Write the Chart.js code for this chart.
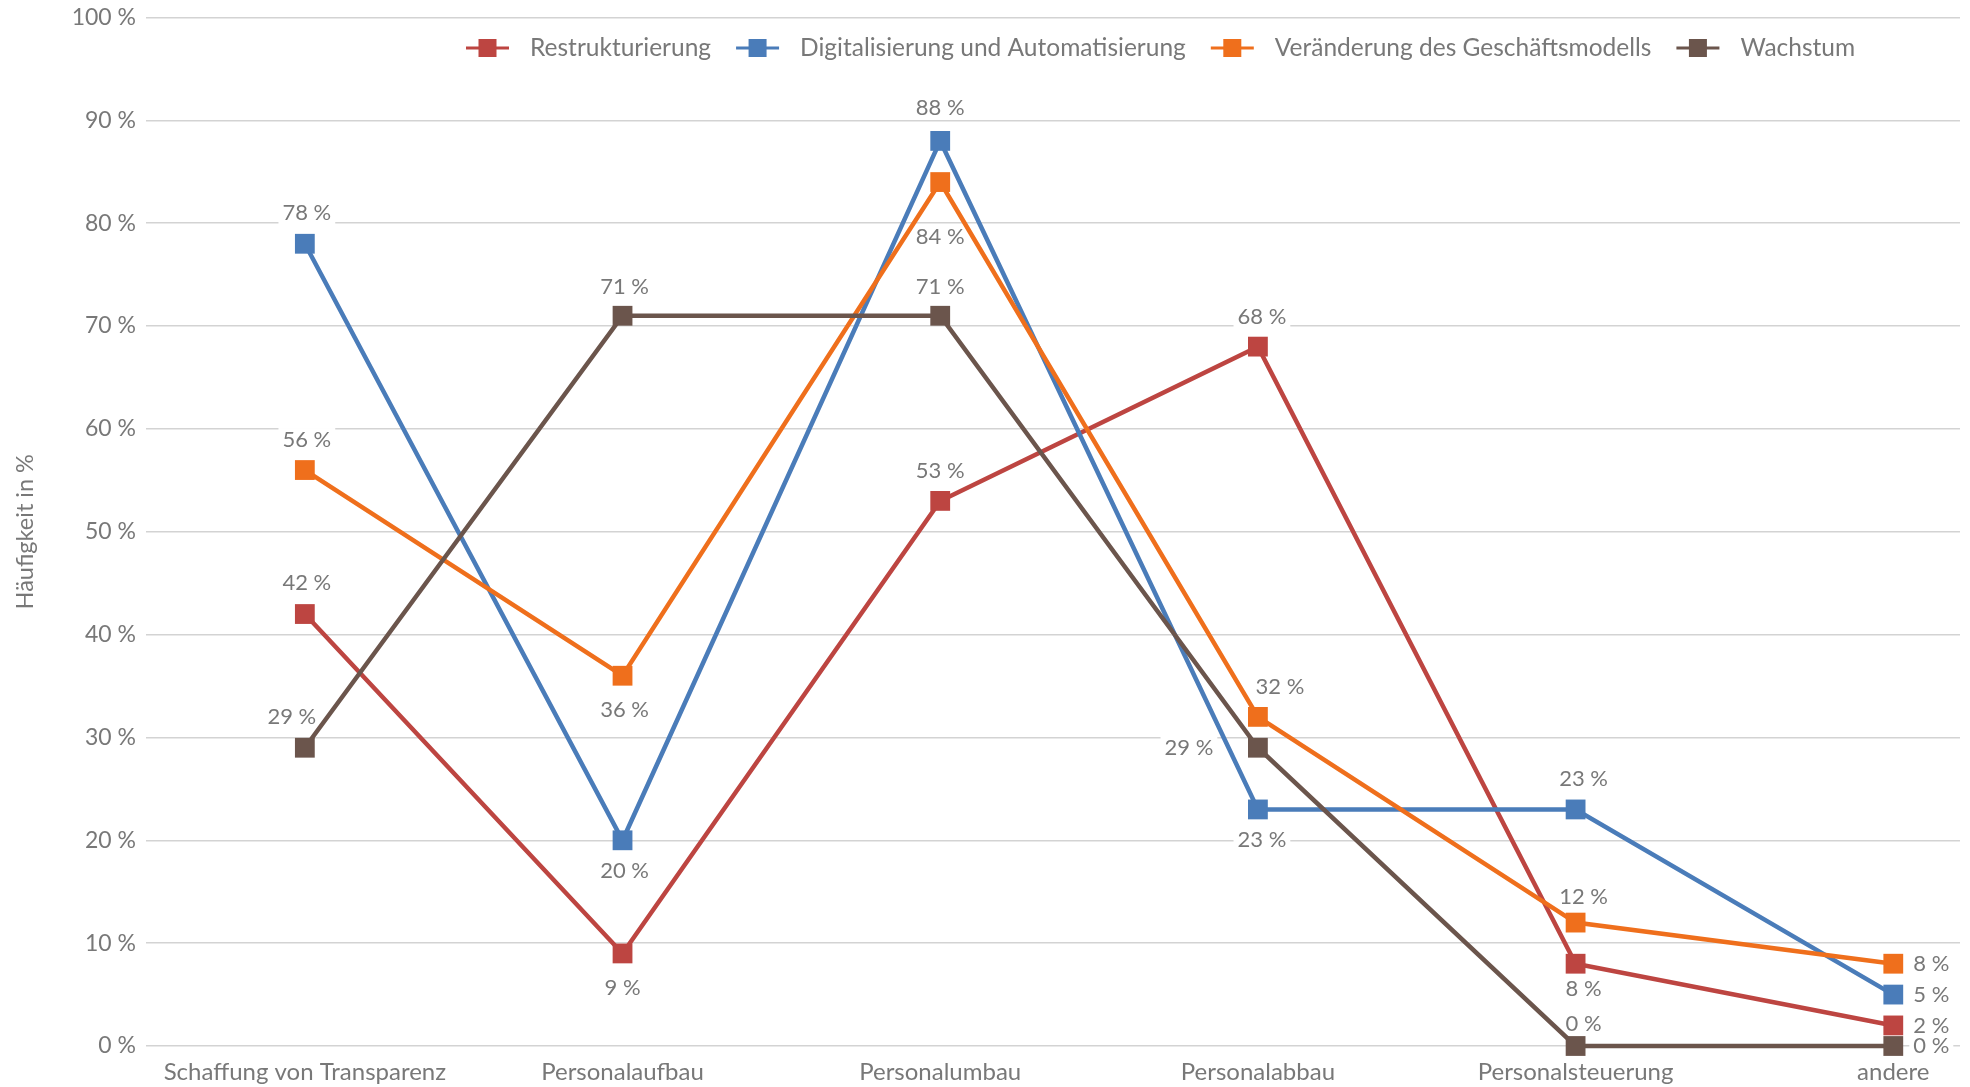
<!DOCTYPE html>
<html><head><meta charset="utf-8">
<script src="https://cdn.jsdelivr.net/npm/chart.js@4.4.1/dist/chart.umd.min.js"></script>
<style>html,body{margin:0;padding:0;background:#fff;overflow:hidden}#wrap{width:1970px;height:1087px;position:relative}</style>
</head><body><div id="wrap"><canvas id="c"></canvas></div>
<script>
const categories = ['Schaffung von Transparenz','Personalaufbau','Personalumbau','Personalabbau','Personalsteuerung','andere'];
const seriesNames = ['Restrukturierung','Digitalisierung und Automatisierung','Veränderung des Geschäftsmodells','Wachstum'];
const restrukturierung = [42, 9, 53, 68, 8, 2];
const digitalisierung = [78, 20, 88, 23, 23, 5];
const geschaeftsmodell = [56, 36, 84, 32, 12, 8];
const wachstum = [29, 71, 71, 29, 0, 0];
const yTicks = [0, 10, 20, 30, 40, 50, 60, 70, 80, 90, 100];
const yTitle = 'Häufigkeit in %';

// styles
const colors = ['#BD4541', '#4A7CB9', '#EF6F1C', '#6B554C'];
const FONT = 'Lato';
const TXT = '#787878';
// label placement relative to point: [dx, dy, align]
const labelPlace = [
  [[2,-31,'c'],[0,34,'c'],[0,-30,'c'],[4,-30,'c'],[8,25,'c'],[20,0,'l']],
  [[2,-31,'c'],[2,31,'c'],[0,-33,'c'],[4,30,'c'],[8,-31,'c'],[20,0,'l']],
  [[2,-30,'c'],[2,34,'c'],[0,55,'c'],[22,-30,'c'],[8,-26,'c'],[20,0,'l']],
  [[-13,-31,'c'],[2,-29,'c'],[0,-29,'c'],[-69,0,'c'],[8,-22,'c'],[20,0,'l']]
];

const seriesData = [restrukturierung, digitalisierung, geschaeftsmodell, wachstum];
const pct = v => v + ' %';

const labelPlugin = {
  id: 'valueLabels',
  beforeDatasetsDraw(chart) {
    const ctx = chart.ctx;
    ctx.save();
    ctx.font = '22px ' + FONT;
    ctx.textBaseline = 'middle';
    chart.data.datasets.forEach((ds, di) => {
      const meta = chart.getDatasetMeta(di);
      meta.data.forEach((pt, i) => {
        const [dx, dy, al] = labelPlace[di][i];
        const t = pct(seriesData[di][i]);
        const w = ctx.measureText(t).width;
        const x = pt.x + dx, y = pt.y + dy;
        const lx = al === 'l' ? x : x - w / 2;
        ctx.fillStyle = '#fff';
        ctx.fillRect(lx - 4, y - 12, w + 8, 24);
        ctx.fillStyle = TXT;
        ctx.textAlign = 'left';
        ctx.fillText(t, lx, y);
      });
    });
    ctx.restore();
  }
};

const legendPlugin = {
  id: 'customLegend',
  afterDraw(chart) {
    const ctx = chart.ctx;
    ctx.save();
    ctx.font = '24.5px ' + FONT;
    ctx.textBaseline = 'middle';
    ctx.textAlign = 'left';
    let x = 466; const y = 48;
    chart.data.datasets.forEach(ds => {
      ctx.strokeStyle = ds.borderColor; ctx.lineWidth = 3;
      ctx.beginPath(); ctx.moveTo(x, y); ctx.lineTo(x + 43, y); ctx.stroke();
      ctx.fillStyle = ds.borderColor;
      ctx.fillRect(x + 21.5 - 9, y - 9, 18, 18);
      x += 43 + 21;
      ctx.fillStyle = TXT;
      ctx.fillText(ds.label, x, y);
      x += ctx.measureText(ds.label).width + 25;
    });
    ctx.restore();
  }
};

new Chart(document.getElementById('c'), {
  type: 'line',
  data: {
    datasets: seriesData.map((arr, di) => ({
      label: seriesNames[di],
      data: arr.map((v, i) => ({x: i, y: v})),
      borderColor: colors[di],
      backgroundColor: colors[di],
      borderWidth: 4.5,
      pointStyle: 'rect',
      pointRadius: 14,
      pointHoverRadius: 14,
      pointBorderWidth: 0,
      tension: 0,
      clip: false,
      order: seriesData.length - di
    }))
  },
  options: {
    responsive: true,
    maintainAspectRatio: false,
    animation: false,
    events: [],
    layout: {autoPadding: false, padding: {left: 0, right: 10, top: 17.5, bottom: 0}},
    plugins: {legend: {display: false}, tooltip: {enabled: false}},
    scales: {
      x: {
        type: 'linear',
        min: -0.5,
        max: 5.21,
        grid: {display: false, drawTicks: false},
        border: {display: false},
        afterBuildTicks: s => { s.ticks = categories.map((c, i) => ({value: i})); },
        afterFit: s => { s.height = 41; s.paddingLeft = 0; s.paddingRight = 0; },
        ticks: {
          padding: 12,
          autoSkip: false,
          maxRotation: 0,
          color: TXT,
          font: {family: FONT, size: 24},
          callback: v => categories[v]
        }
      },
      y: {
        min: 0,
        max: 100,
        afterBuildTicks: s => { s.ticks = yTicks.map(v => ({value: v})); },
        afterFit: s => { s.width = 146; s.paddingTop = 0; s.paddingBottom = 0; },
        grid: {color: '#D3D3D3', lineWidth: 1.5, drawTicks: false},
        border: {display: false},
        ticks: {
          padding: 10,
          color: TXT,
          font: {family: FONT, size: 23},
          callback: v => pct(v)
        },
        title: {
          display: true,
          text: yTitle,
          color: TXT,
          font: {family: FONT, size: 23.5},
          padding: {top: 11, bottom: 0}
        }
      }
    }
  },
  plugins: [labelPlugin, legendPlugin]
});
</script>
</body></html>
